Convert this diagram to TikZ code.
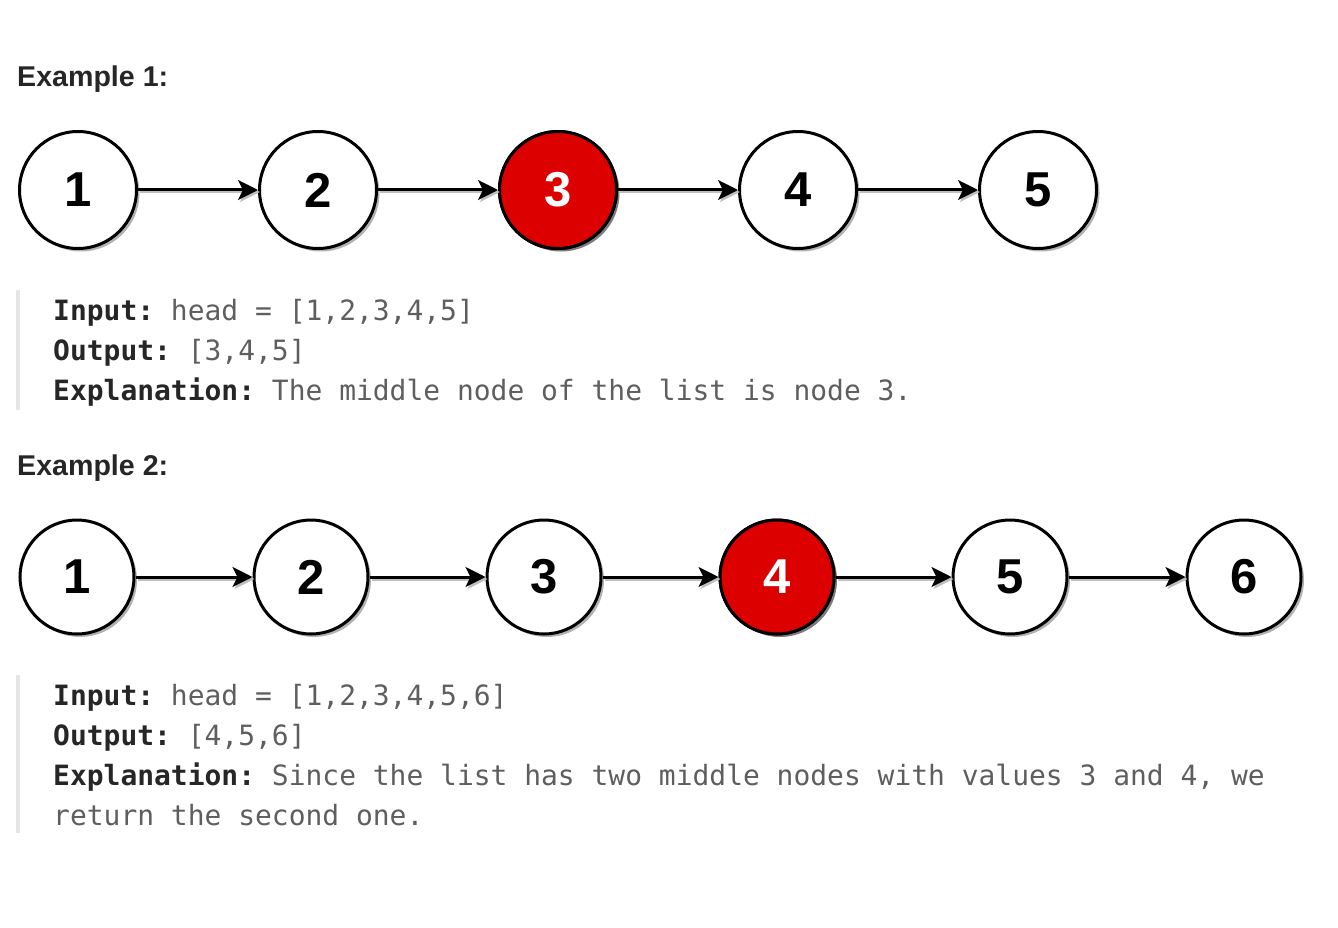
\documentclass[tikz,border=0pt]{standalone}
\usepackage{fontspec}
\setmainfont{Liberation Sans}
\newfontfamily\codefont{DejaVu Sans Mono}
\usetikzlibrary{shadows,arrows.meta}
\frenchspacing
\definecolor{nodered}{HTML}{DD0000}
\definecolor{labelink}{HTML}{262626}
\definecolor{valueink}{HTML}{5E5E5E}
\definecolor{quotebar}{HTML}{E6E6E6}
\tikzset{
  listnode/.style={circle, draw=black, line width=3pt, fill=white, minimum size=#1,
    inner sep=0pt, font=\fontsize{49}{49}\selectfont\bfseries, text=black,
    drop shadow={shadow xshift=3pt, shadow yshift=-3pt, opacity=0.3, fill=black}},
  midnode/.style={fill=nodered, text=white},
  link/.style={line width=3pt, -{Stealth[length=20pt, width=20pt, inset=5pt]},
    preaction={draw=black!25, line width=3pt, transform canvas={xshift=2pt, yshift=-2pt}}},
  heading/.style={anchor=base west, inner sep=0pt, font=\fontsize{28.6}{28.6}\selectfont\bfseries, text=labelink},
  codeline/.style={anchor=base west, inner sep=0pt, font=\codefont\fontsize{27.95}{27.95}\selectfont, text=valueink},
}
\newcommand{\lbl}[1]{\textcolor{labelink}{\bfseries #1}}
\begin{document}
\begin{tikzpicture}[x=1pt, y=-1pt]
\useasboundingbox (0,0) rectangle (1338,928);

% Example 1
\node[heading] (h1) at (17,87) {Example 1:};
\foreach \v/\x in {1/78,2/318,3/558,4/798,5/1038}{
  \node[listnode=117pt] (a\v) at (\x,190) {\v};
}
\node[listnode=117pt, midnode] at (a3) {3};
\foreach \i/\j in {1/2,2/3,3/4,4/5}{
  \draw[link] (a\i.east) -- (a\j.west);
}
\fill[quotebar] (16,290) rectangle (20,410);
\node[codeline] (i1) at (53,320) {\lbl{Input:} head = [1,2,3,4,5]};
\node[codeline] (o1) at (53,360) {\lbl{Output:} [3,4,5]};
\node[codeline] (e1) at (53,400) {\lbl{Explanation:} The middle node of the list is node 3.};

% Example 2
\node[heading] (h2) at (17,475) {Example 2:};
\foreach \v/\x in {1/77,2/311,3/544,4/777,5/1010,6/1244}{
  \node[listnode=114pt] (b\v) at (\x,577) {\v};
}
\node[listnode=114pt, midnode] at (b4) {4};
\foreach \i/\j in {1/2,2/3,3/4,4/5,5/6}{
  \draw[link] (b\i.east) -- (b\j.west);
}
\fill[quotebar] (16,675) rectangle (20,833);
\node[codeline] (i2) at (53,705) {\lbl{Input:} head = [1,2,3,4,5,6]};
\node[codeline] (o2) at (53,745) {\lbl{Output:} [4,5,6]};
\node[codeline] (e2) at (53,785) {\lbl{Explanation:} Since the list has two middle nodes with values 3 and 4, we};
\node[codeline] (r2) at (53,825) {return the second one.};
\end{tikzpicture}
\end{document}
